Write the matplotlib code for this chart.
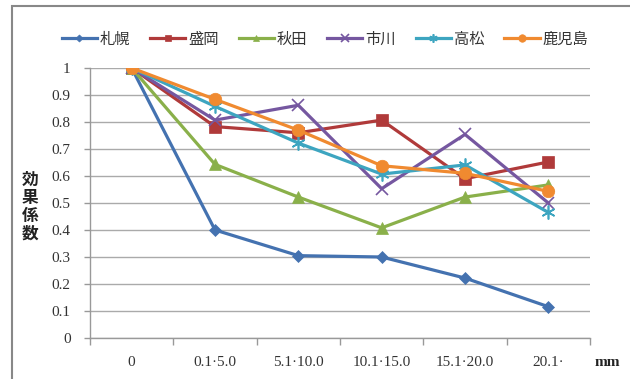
import matplotlib
matplotlib.use("Agg")
import matplotlib.pyplot as plt
from matplotlib.patches import Rectangle

categories = ["0", "0.1-5.0", "5.1-10.0", "10.1-15.0", "15.1-20.0", "20.1-"]
tick_labels = ["0", "0.1\u00b75.0", "5.1\u00b710.0", "10.1\u00b715.0", "15.1\u00b720.0", "20.1\u00b7"]

sapporo = [1.0, 0.40, 0.305, 0.30, 0.222, 0.116]
morioka = [1.0, 0.783, 0.76, 0.807, 0.59, 0.652]
akita = [1.0, 0.643, 0.522, 0.408, 0.522, 0.567]
ichikawa = [1.0, 0.807, 0.862, 0.553, 0.754, 0.50]
takamatsu = [1.0, 0.858, 0.722, 0.607, 0.641, 0.465]
kagoshima = [1.0, 0.884, 0.77, 0.638, 0.61, 0.543]

series_names = ["札幌", "盛岡", "秋田", "市川", "高松", "鹿児島"]
series_values = [sapporo, morioka, akita, ichikawa, takamatsu, kagoshima]
y_ticks = [0, 0.1, 0.2, 0.3, 0.4, 0.5, 0.6, 0.7, 0.8, 0.9, 1]
y_tick_labels = ["0", "0.1", "0.2", "0.3", "0.4", "0.5", "0.6", "0.7", "0.8", "0.9", "1"]

colors = ["#4472B0", "#B03A3A", "#8AB04A", "#7557A0", "#3DA5C0", "#F08A30"]
markers = ["D", "s", "^", "x", (6, 2, 0), "o"]
msizes = [6, 8, 8, 9, 10, 9]

cjk = ["Noto Sans CJK JP", "DejaVu Sans"]
serif = ["Liberation Serif", "DejaVu Serif"]

fig = plt.figure(figsize=(6.3, 3.79), dpi=100)
ax = fig.add_axes([90 / 630, 1 - 338 / 379, 500 / 630, 270 / 379])

x = list(range(len(categories)))
for name, vals, c, m, ms in zip(series_names, series_values, colors, markers, msizes):
    thin = m == "x" or isinstance(m, tuple)
    ax.plot(x, vals, color=c, lw=2.3, marker=m, markersize=ms,
            markeredgewidth=1.2 if thin else 0.5,
            markeredgecolor=c, label=name)

ax.set_xlim(-0.5, 5.5)
ax.set_ylim(0, 1)
ax.set_yticks(y_ticks)
ax.set_yticklabels(y_tick_labels, family=serif, fontsize=11, color="#333333")
ax.set_xticks(x)
ax.set_xticklabels(tick_labels, family=serif, fontsize=11, color="#333333")
ax.set_xticks([i - 0.5 for i in range(len(categories) + 1)], minor=True)
ax.tick_params(axis="x", which="major", length=0, pad=13)
ax.tick_params(axis="x", which="minor", length=5, color="#999999", width=1)
ax.tick_params(axis="y", length=4, color="#999999", width=1, pad=10)
ax.grid(axis="y", color="#AAAAAA", lw=1.0)
ax.set_axisbelow(True)
for s in ("top", "right"):
    ax.spines[s].set_visible(False)
for s in ("left", "bottom"):
    ax.spines[s].set_color("#999999")
    ax.spines[s].set_linewidth(1.0)

leg = fig.legend(loc="center", bbox_to_anchor=(325 / 630, 1 - 39 / 379), ncol=6,
                 frameon=False, prop={"family": cjk, "size": 11},
                 handlelength=2.3, columnspacing=1.3, handletextpad=0.2,
                 markerscale=0.6)
for t in leg.get_texts():
    t.set_color("#333333")

fig.text(30 / 630, 1 - 207 / 379, "効\n果\n係\n数", family=cjk, fontsize=12,
         fontweight="bold", ha="center", va="center", linespacing=1.0, color="#222222")
fig.text(607 / 630, 1 - 362 / 379, "mm", family=serif, fontsize=11,
         fontweight="bold", ha="center", va="center", color="#222222")

fig.patches.append(Rectangle((12 / 630, -0.05), 1.0, 1 - 6 / 379 + 0.05,
                             transform=fig.transFigure, fill=False,
                             edgecolor="#888888", lw=1.5))

fig.savefig("out.png", dpi=100)
